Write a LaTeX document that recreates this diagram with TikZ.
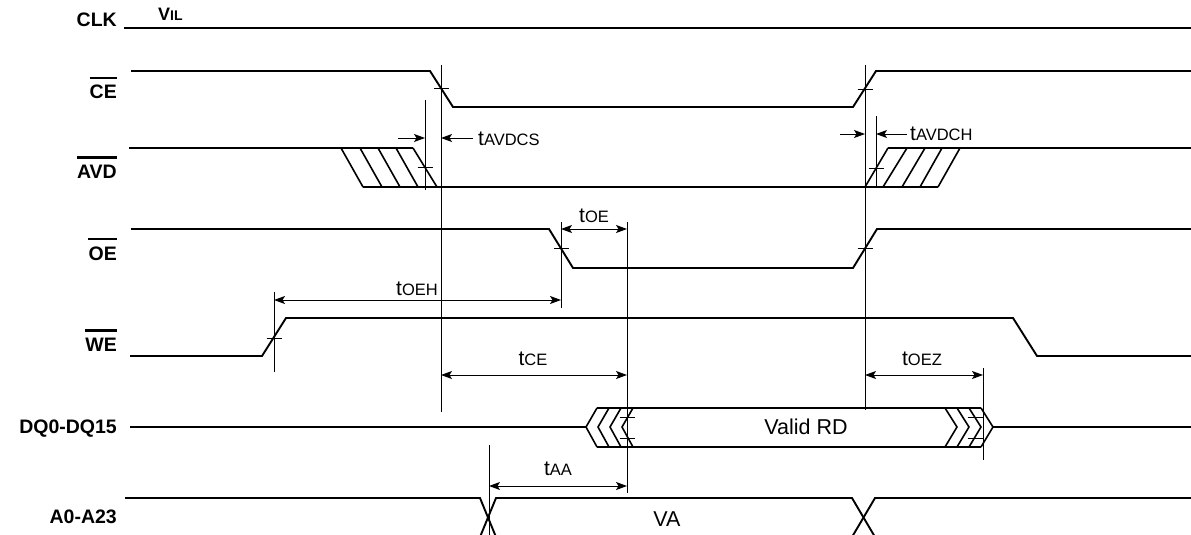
\documentclass[tikz,border=0pt]{standalone}
\usepackage{fontspec}
\setmainfont{Liberation Sans}
\usetikzlibrary{arrows.meta}
\newcommand{\tlab}[1]{{\fontsize{21}{23}\selectfont t}{\fontsize{16.5}{18}\selectfont #1}}
\tikzset{
  sig/.style={line width=1.9pt, line join=miter},
  hatch/.style={line width=1.6pt},
  guide/.style={line width=0.9pt},
  tickmark/.style={line width=0.9pt},
  tip/.tip={Stealth[length=11pt,width=8pt,inset=2.5pt]},
  dimone/.style={line width=0.9pt, -tip},
  dimboth/.style={line width=0.9pt, tip-tip},
  siglabel/.style={font=\fontsize{19.5}{22}\selectfont\bfseries, inner sep=0, anchor=base east},
  tlabel/.style={inner sep=0, anchor=base},
  overbar/.style={line width=2.6pt}
}
\begin{document}
\begin{tikzpicture}[x=1pt,y=-1pt]
\useasboundingbox (0,0) rectangle (1191,535);

% signal labels
\node[siglabel] (lclk) at (117,27) {CLK};
\node[siglabel] (lce) at (117,99) {CE};
\node[siglabel] (lavd) at (117,178) {AVD};
\node[siglabel] (loe) at (117,260) {OE};
\node[siglabel] (lwe) at (117,351) {WE};
\node[siglabel] (ldq) at (117,433) {DQ0-DQ15};
\node[siglabel] (la) at (117,523) {A0-A23};
\foreach \n in {lce,lavd,loe,lwe}
  \draw[overbar] ([yshift=7pt]\n.north west) -- ([yshift=7pt]\n.north east);

\node[inner sep=0, anchor=base west] (vil) at (158,21)
  {\bfseries\fontsize{18}{20}\selectfont V\fontsize{14}{16}\selectfont IL};

% CLK
\draw[sig] (124,28) -- (1191,28);

% CE
\draw[sig] (131,71) -- (430,71) -- (453,107) -- (853,107) -- (876,71) -- (1191,71);

% AVD
\draw[sig] (129,148) -- (413,148);
\draw[sig] (363,187) -- (938,187);
\draw[sig] (888,148) -- (1191,148);
\foreach \t/\b in {341/363,360/382,378/400,396/418,413/437}
  \draw[hatch] (\t,148) -- (\b,187);
\foreach \b/\t in {865/888,883/907,902/925,920/942,938/960}
  \draw[hatch] (\b,187) -- (\t,148);

% OE
\draw[sig] (131,229) -- (549,229) -- (573,268) -- (853,268) -- (877,229) -- (1191,229);

% WE
\draw[sig] (130,356) -- (262,356) -- (286,318) -- (1013,318) -- (1037,356) -- (1191,356);

% DQ
\draw[sig] (130,427) -- (586,427);
\draw[sig] (993,427) -- (1191,427);
\draw[sig] (597,408) -- (981,408);
\draw[sig] (597,447) -- (981,447);
\foreach \x in {586,598,610,622}
  \draw[hatch] (\x+11,408) -- (\x,427) -- (\x+11,447);
\foreach \x in {945,957,969,981}
  \draw[hatch] (\x,408) -- (\x+12,427) -- (\x,447);
\node[inner sep=0, font=\fontsize{21.5}{24}\selectfont] (vrd) at (806,427) {Valid RD};

% A bus
\draw[sig] (125,498) -- (480,498) -- (496,537);
\draw[sig] (480,537) -- (496,498) -- (852,498) -- (875,537);
\draw[sig] (852,537) -- (875,498) -- (1191,498);
\node[inner sep=0, font=\fontsize{21.5}{24}\selectfont] (va) at (667,519) {VA};

% guide lines
\coordinate (g1t) at (425,100); \coordinate (g1b) at (425,190);
\coordinate (g2t) at (441,65);  \coordinate (g2b) at (441,412);
\coordinate (g3t) at (865,65);  \coordinate (g3b) at (865,410);
\coordinate (g4t) at (876,116); \coordinate (g4b) at (876,187);
\coordinate (g5t) at (561,222); \coordinate (g5b) at (561,308);
\coordinate (g6t) at (627,222); \coordinate (g6b) at (627,493);
\coordinate (g7t) at (274,292); \coordinate (g7b) at (274,372);
\coordinate (g8t) at (983,368); \coordinate (g8b) at (983,460);
\coordinate (g9t) at (489,445); \coordinate (g9b) at (489,535);
\foreach \g in {1,...,9} \draw[guide] (g\g t) -- (g\g b);

% tick marks
\foreach \x/\y in {441/88,865/89,425/167,876/168,561/248,865/248,274/338,627/417,627/438,975/417,975/438}
  \draw[tickmark] (\x-7.5,\y) -- (\x+7.5,\y);

% dimension arrows
\coordinate (a1s) at (398,138); \coordinate (a1e) at (425,138);
\coordinate (a2s) at (473,138); \coordinate (a2e) at (441,138);
\draw[dimone] (a1s) -- (a1e);
\draw[dimone] (a2s) -- (a2e);
\node[tlabel, anchor=base west] (tavdcs) at (478,145) {\tlab{AVDCS}};

\coordinate (b1s) at (840,134); \coordinate (b1e) at (865,134);
\coordinate (b2s) at (907,134); \coordinate (b2e) at (876,134);
\draw[dimone] (b1s) -- (b1e);
\draw[dimone] (b2s) -- (b2e);
\node[tlabel, anchor=base west] (tavdch) at (910,140) {\tlab{AVDCH}};

\coordinate (c1) at (561,229); \coordinate (c2) at (627,229);
\draw[dimboth] (c1) -- (c2);
\node[tlabel] (toe) at (594,222) {\tlab{OE}};

\coordinate (d1) at (274,300); \coordinate (d2) at (561,300);
\draw[dimboth] (d1) -- (d2);
\node[tlabel] (toeh) at (417,295) {\tlab{OEH}};

\coordinate (e1) at (441,375); \coordinate (e2) at (627,375);
\draw[dimboth] (e1) -- (e2);
\node[tlabel] (tce) at (533,365) {\tlab{CE}};

\coordinate (f1) at (865,375); \coordinate (f2) at (983,375);
\draw[dimboth] (f1) -- (f2);
\node[tlabel] (toez) at (922,365) {\tlab{OEZ}};

\coordinate (h1) at (489,486); \coordinate (h2) at (627,486);
\draw[dimboth] (h1) -- (h2);
\node[tlabel] (taa) at (558,475) {\tlab{AA}};
\end{tikzpicture}
\end{document}
